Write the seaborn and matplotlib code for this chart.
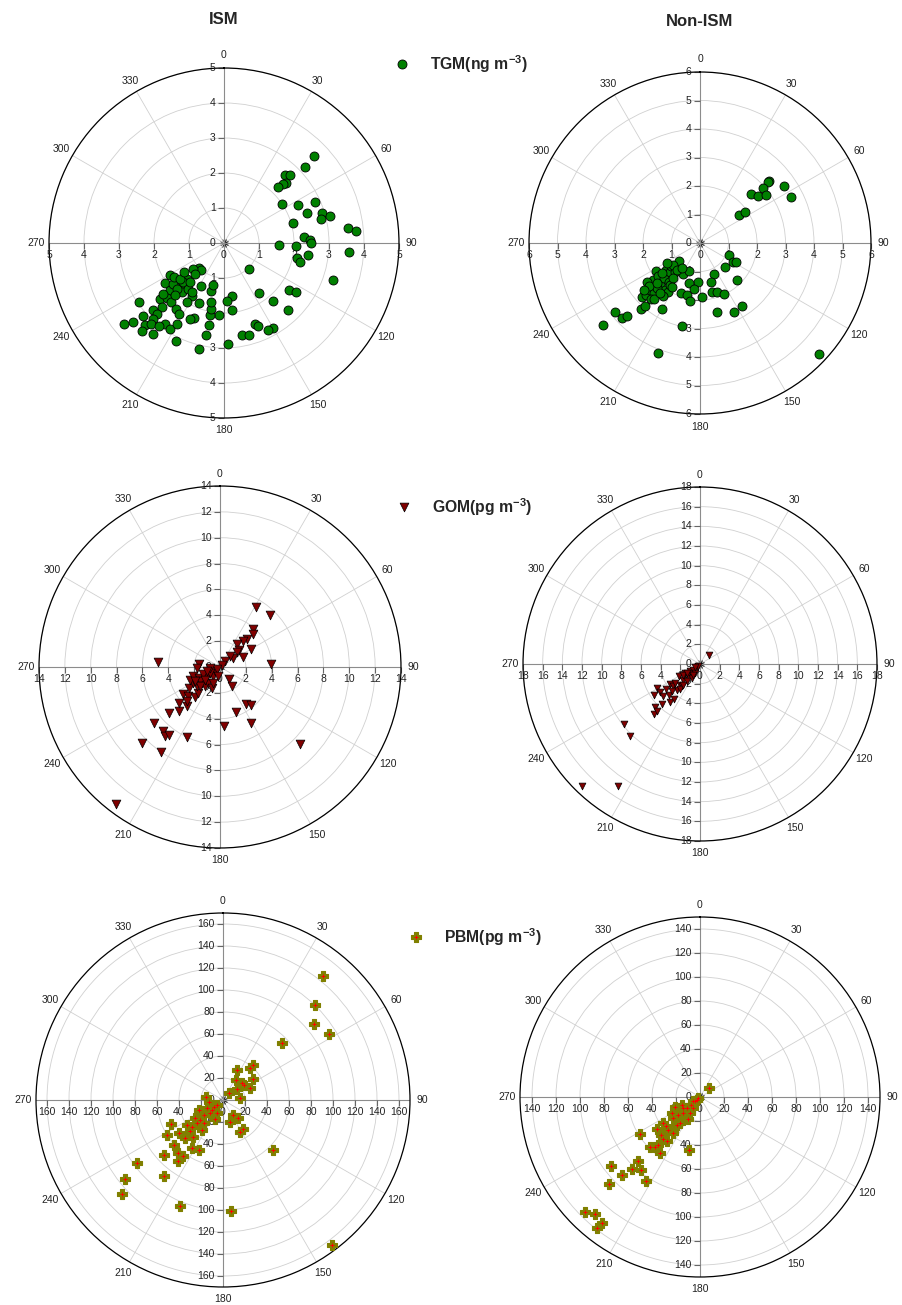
import numpy as np
import seaborn as sns
from matplotlib import pyplot as plt

# ---- data: wind direction (deg) and concentration ----
# TGM (ng m-3)
tgm_ism_dir = [46, 47, 42, 44, 46, 45, 44, 56, 63, 66,
               70, 73, 76, 76, 74, 83, 85, 86, 88, 90,
               92, 92, 98, 102, 104, 94, 109, 136, 126, 124,
               145, 140, 136, 171, 177, 173, 159, 158, 150, 153,
               169, 165, 178, 193, 191, 190, 184, 191, 191, 192,
               195, 194, 208, 203, 202, 204, 206, 225, 220, 230,
               226, 239, 236, 226, 221, 211, 229, 229, 226, 235,
               222, 224, 227, 216, 212, 228, 223, 223, 216, 229,
               231, 224, 222, 218, 212, 210, 223, 218, 231, 226,
               226, 218, 213, 236, 231, 223, 230, 212, 234, 223, 221]
tgm_ism_val = [3.59, 3.17, 2.62, 2.70, 2.47, 2.37, 2.23, 1.99, 2.37, 2.86,
               2.52, 2.93, 2.87, 3.13, 2.06, 3.58, 3.80, 2.29, 2.46, 2.50,
               1.58, 2.05, 2.41, 2.12, 2.25, 3.57, 3.28, 1.04, 2.28, 2.48,
               1.73, 2.16, 2.65, 1.54, 1.67, 1.94, 2.47, 2.57, 2.80, 2.79,
               2.67, 2.73, 2.88, 3.12, 2.69, 2.39, 2.05, 2.09, 1.92, 1.73,
               1.43, 1.25, 1.39, 1.85, 2.31, 2.38, 3.11, 1.01, 1.01, 1.15,
               1.48, 1.80, 2.02, 1.76, 1.85, 1.77, 2.06, 2.44, 2.28, 2.96,
               2.28, 2.55, 2.79, 2.32, 2.40, 3.11, 2.79, 2.97, 2.85, 3.44,
               3.68, 3.25, 3.11, 3.01, 2.90, 2.66, 3.43, 3.29, 1.86, 1.88,
               1.61, 1.65, 1.66, 1.74, 1.62, 2.05, 2.26, 2.00, 1.43, 1.23, 1.48]

tgm_non_dir = [48, 48, 49, 46, 51, 54, 56, 63, 54, 56,
               113, 120, 118, 133, 155, 135, 164, 183, 196, 187,
               166, 161, 155, 178, 201, 194, 190, 146, 154, 166,
               133, 192, 201, 210, 230, 231, 226, 225, 222, 221,
               227, 226, 227, 223, 221, 238, 232, 232, 224, 217,
               213, 215, 224, 226, 219, 216, 232, 226, 231, 221,
               224, 229, 217, 208, 201, 234, 230, 230, 219, 219,
               227, 231, 239, 221, 216, 213, 232]
tgm_non_val = [3.26, 3.20, 2.93, 2.48, 2.63, 2.85, 3.56, 3.59, 1.68, 1.92,
               1.10, 1.34, 1.43, 1.21, 1.20, 1.86, 1.41, 1.38, 1.46, 1.63,
               1.76, 1.81, 1.99, 1.90, 1.88, 1.88, 2.05, 2.66, 2.71, 2.50,
               5.69, 2.99, 4.15, 2.67, 4.45, 3.83, 3.80, 3.62, 3.12, 2.92,
               2.80, 2.61, 2.40, 2.39, 2.60, 1.84, 2.09, 1.88, 2.03, 2.05,
               2.03, 2.28, 2.18, 1.78, 1.75, 1.81, 1.52, 1.48, 1.29, 1.35,
               1.10, 0.97, 1.55, 1.24, 1.07, 2.31, 2.34, 2.57, 2.54, 2.25,
               2.07, 1.21, 1.37, 1.25, 1.09, 1.82, 1.71]

# GOM (pg m-3)
gom_ism_dir = [31, 44, 41, 45, 44, 42, 36, 60, 49, 50,
               67, 56, 43, 42, 35, 87, 275, 279, 268, 143,
               147, 145, 141, 161, 176, 151, 134, 217, 226, 215,
               230, 222, 219, 217, 205, 228, 223, 229, 220, 234,
               227, 220, 220, 236, 239, 247, 251, 242, 229, 218,
               216, 202, 235, 216, 229, 239, 246, 234, 230, 240,
               203, 190, 226, 240, 230, 224, 264, 255]
gom_ism_val = [5.44, 5.61, 3.89, 3.59, 2.99, 2.68, 2.22, 2.77, 1.97, 1.75,
               1.95, 1.25, 1.13, 0.59, 0.22, 3.93, 4.78, 1.67, 1.80, 1.12,
               1.73, 3.46, 3.83, 3.70, 4.55, 4.94, 8.60, 13.31, 8.44, 7.99,
               6.68, 6.64, 6.82, 6.58, 6.01, 5.29, 4.61, 4.22, 3.95, 3.51,
               3.34, 2.98, 2.62, 2.87, 2.40, 2.52, 2.18, 1.81, 1.88, 1.89,
               1.53, 1.75, 1.26, 0.89, 0.51, 0.90, 1.42, 1.90, 2.34, 0.30,
               1.34, 0.73, 2.15, 2.23, 1.52, 3.70, 0.78, 1.07]

gom_non_dir = [45, 224, 214, 232, 224, 223, 226, 223, 218, 236,
               241, 235, 229, 225, 217, 236, 230, 222, 224, 240,
               227, 219, 239, 223, 234, 230, 229, 218, 211, 209,
               225, 238, 226, 234, 218, 219, 235, 214, 240, 222, 233]
gom_non_val = [1.24, 17.30, 14.94, 9.83, 10.21, 6.92, 6.30, 5.61, 4.93, 5.65,
               5.01, 5.01, 4.95, 4.53, 4.41, 3.69, 3.52, 3.51, 2.91, 2.52,
               2.32, 2.92, 1.77, 1.72, 1.25, 0.88, 0.45, 2.21, 1.65, 1.04,
               0.24, 2.06, 3.99, 4.27, 3.29, 2.69, 1.57, 1.31, 0.59, 6.49, 3.18]

# PBM (pg m-3)
pbm_ism_dir = [39, 44, 50, 58, 46, 41, 40, 25, 33, 47,
               55, 66, 52, 38, 85, 54, 147, 140, 163, 146,
               153, 135, 143, 176, 202, 227, 231, 234, 227, 218,
               216, 220, 216, 213, 206, 245, 238, 227, 233, 225,
               219, 235, 229, 228, 229, 215, 248, 232, 243, 225,
               234, 230, 281, 264, 202, 237, 227, 204, 228, 219]
pbm_ism_val = [144.9, 120.3, 107.4, 113.1, 74.3, 41.6, 37.8, 30.2, 21.8, 23.0,
               33.5, 26.6, 15.6, 8.5, 15.9, 23.3, 16.3, 21.2, 20.7, 32.3,
               33.1, 63.7, 164.5, 101.6, 103.5, 125.3, 114.7, 96.7, 73.9, 87.2,
               68.9, 63.4, 62.6, 52.4, 50.2, 51.9, 60.0, 60.5, 50.2, 49.1,
               43.3, 40.0, 37.4, 31.9, 27.6, 33.5, 24.0, 22.4, 16.5, 17.2,
               10.5, 7.2, 15.5, 13.2, 19.0, 30.3, 40.9, 13.4, 13.5, 27.3]

pbm_non_dir = [46, 225, 222, 218, 218, 226, 232, 225, 223, 224,
               219, 213, 238, 225, 222, 221, 216, 192, 234, 226,
               235, 230, 224, 217, 241, 249, 232, 231, 218, 226,
               231, 212, 231, 229, 240, 237, 247, 211, 208, 217,
               221, 220, 232, 240]
pbm_non_val = [10.8, 136.1, 131.1, 132.9, 139.0, 104.9, 93.8, 91.4, 82.6, 74.1,
               78.6, 83.0, 58.9, 59.2, 56.3, 53.1, 57.3, 45.4, 44.8, 45.1,
               37.4, 37.0, 38.2, 37.6, 27.1, 22.2, 28.7, 23.2, 27.3, 19.2,
               14.4, 15.7, 10.1, 5.5, 1.6, 16.6, 16.5, 10.7, 20.7, 46.1,
               46.8, 30.1, 3.5, 7.1]

angle_ticks = list(range(0, 360, 30))
tgm_ism_ticks = [0, 1, 2, 3, 4, 5]
tgm_non_ticks = [0, 1, 2, 3, 4, 5, 6]
gom_ism_ticks = [0, 2, 4, 6, 8, 10, 12, 14]
gom_non_ticks = [0, 2, 4, 6, 8, 10, 12, 14, 16, 18]
pbm_ism_ticks = [0, 20, 40, 60, 80, 100, 120, 140, 160]
pbm_non_ticks = [0, 20, 40, 60, 80, 100, 120, 140]

W, H = 903, 1305
sns.set_style('white')
plt.rcParams['font.family'] = ['Liberation Sans', 'DejaVu Sans']
plt.rcParams['mathtext.fontset'] = 'custom'
plt.rcParams['mathtext.rm'] = 'Liberation Sans'
plt.rcParams['mathtext.bf'] = 'Liberation Sans:bold'

fig = plt.figure(figsize=(W / 100, H / 100), dpi=100)
fig.patch.set_facecolor('white')

TXT = '#222222'
FS = 7.5


def polar_panel(cx, cy, rad, ticks, rmax):
    ax = fig.add_axes([(cx - rad) / W, 1 - (cy + rad) / H, 2 * rad / W, 2 * rad / H],
                      projection='polar')
    ax.set_theta_zero_location('N')
    ax.set_theta_direction(-1)
    ax.set_thetagrids(angle_ticks, labels=[str(a) for a in angle_ticks])
    ax.set_rgrids(ticks)
    ax.set_yticklabels([])
    ax.grid(True, color='#d0d0d0', lw=0.6)
    ax.spines['polar'].set_color('black')
    ax.spines['polar'].set_linewidth(0.9)
    ax.tick_params(axis='x', bottom=True, top=False, length=3, width=0.8, direction='out',
                   pad=-1, colors=TXT, labelsize=FS)
    ax.tick_params(axis='y', left=False, right=False)
    ax.set_facecolor('white')

    # the cross of radial axes
    for a in (0, 90, 180, 270):
        ax.plot(np.deg2rad([a, a]), [0, rmax], color='#8c8c8c', lw=0.8, zorder=1.5)

    # radial tick labels along the four arms
    for r in ticks:
        for a, off, ha, va in [(0, (-6, 0), 'right', 'center'),
                               (180, (-6, 0), 'right', 'center'),
                               (90, (0, -5), 'center', 'top'),
                               (270, (0, -5), 'center', 'top')]:
            if r == 0 and a in (180, 270):
                continue
            ax.annotate(str(r), (np.deg2rad(a), r), xytext=off, textcoords='offset points',
                        ha=ha, va=va, fontsize=FS, color=TXT, annotation_clip=False)
    marks = ticks[1:]
    n = len(marks)
    for a in (0, 180):
        ax.plot(np.full(n, np.deg2rad(a)), marks, ls='none', marker=0, ms=4,
                mew=0.8, color='#666666', clip_on=False)
    for a in (90, 270):
        ax.plot(np.full(n, np.deg2rad(a)), marks, ls='none', marker=3, ms=4,
                mew=0.8, color='#666666', clip_on=False)
    return ax


def finish(ax, rmax):
    ax.set_ylim(0, rmax)
    ax.set_xlabel('')
    ax.set_ylabel('')


def legend(ax, handle, label, x0, y):
    ax.legend(handles=[handle], labels=[label], loc='center left',
              bbox_to_anchor=(x0 / W, 1 - y / H), bbox_transform=fig.transFigure,
              frameon=False, borderpad=0, borderaxespad=0, handlelength=1.0,
              handletextpad=1.3, scatterpoints=1, scatteryoffsets=[0.5],
              prop={'weight': 'bold', 'size': 11.3})


# ---- row 1: TGM ----
ax1 = polar_panel(224, 243, 175, tgm_ism_ticks, 5)
sns.scatterplot(x=np.deg2rad(tgm_ism_dir), y=tgm_ism_val, ax=ax1, marker='o', s=42,
                color='#008000', edgecolor='black', linewidth=0.6, zorder=3, clip_on=False)
finish(ax1, 5)
legend(ax1, ax1.collections[-1], r'TGM(ng m$^{\mathbf{-3}}$)', 394, 64)

ax2 = polar_panel(700, 243, 171, tgm_non_ticks, 6)
sns.scatterplot(x=np.deg2rad(tgm_non_dir), y=tgm_non_val, ax=ax2, marker='o', s=42,
                color='#008000', edgecolor='black', linewidth=0.6, zorder=3, clip_on=False)
finish(ax2, 6)

# ---- row 2: GOM ----
ax3 = polar_panel(220, 667, 181, gom_ism_ticks, 14)
sns.scatterplot(x=np.deg2rad(gom_ism_dir), y=gom_ism_val, ax=ax3, marker='v', s=40,
                color='#800000', edgecolor='black', linewidth=0.5, zorder=3, clip_on=False)
finish(ax3, 14)
legend(ax3, ax3.collections[-1], r'GOM(pg m$^{\mathbf{-3}}$)', 396, 507)

ax4 = polar_panel(700, 664, 177, gom_non_ticks, 18)
sns.scatterplot(x=np.deg2rad(gom_non_dir), y=gom_non_val, ax=ax4, marker='v', s=24,
                color='#800000', edgecolor='black', linewidth=0.5, zorder=3, clip_on=False)
finish(ax4, 18)

# ---- row 3: PBM ----
ax5 = polar_panel(223, 1100, 187, pbm_ism_ticks, 170)
sns.scatterplot(x=np.deg2rad(pbm_ism_dir), y=pbm_ism_val, ax=ax5, marker='P', s=60,
                color='#808000', edgecolor='#808000', linewidth=0.8, zorder=3, clip_on=False)
p_olive = ax5.collections[-1]
sns.scatterplot(x=np.deg2rad(pbm_ism_dir), y=pbm_ism_val, ax=ax5, marker='+', s=6,
                color='red', edgecolor='red', linewidth=0.7, zorder=4, clip_on=False)
p_red = ax5.collections[-1]
finish(ax5, 170)
legend(ax5, (p_olive, p_red), r'PBM(pg m$^{\mathbf{-3}}$)', 408, 937)

ax6 = polar_panel(700, 1097, 180, pbm_non_ticks, 150)
sns.scatterplot(x=np.deg2rad(pbm_non_dir), y=pbm_non_val, ax=ax6, marker='P', s=60,
                color='#808000', edgecolor='#808000', linewidth=0.8, zorder=3, clip_on=False)
sns.scatterplot(x=np.deg2rad(pbm_non_dir), y=pbm_non_val, ax=ax6, marker='+', s=6,
                color='red', edgecolor='red', linewidth=0.7, zorder=4, clip_on=False)
finish(ax6, 150)

fig.text(224 / W, 1 - 20 / H, 'ISM', ha='center', va='center', fontsize=12, weight='bold')
fig.text(700 / W, 1 - 22 / H, 'Non-ISM', ha='center', va='center', fontsize=12, weight='bold')

fig.savefig('out.png', dpi=100, facecolor='white')
